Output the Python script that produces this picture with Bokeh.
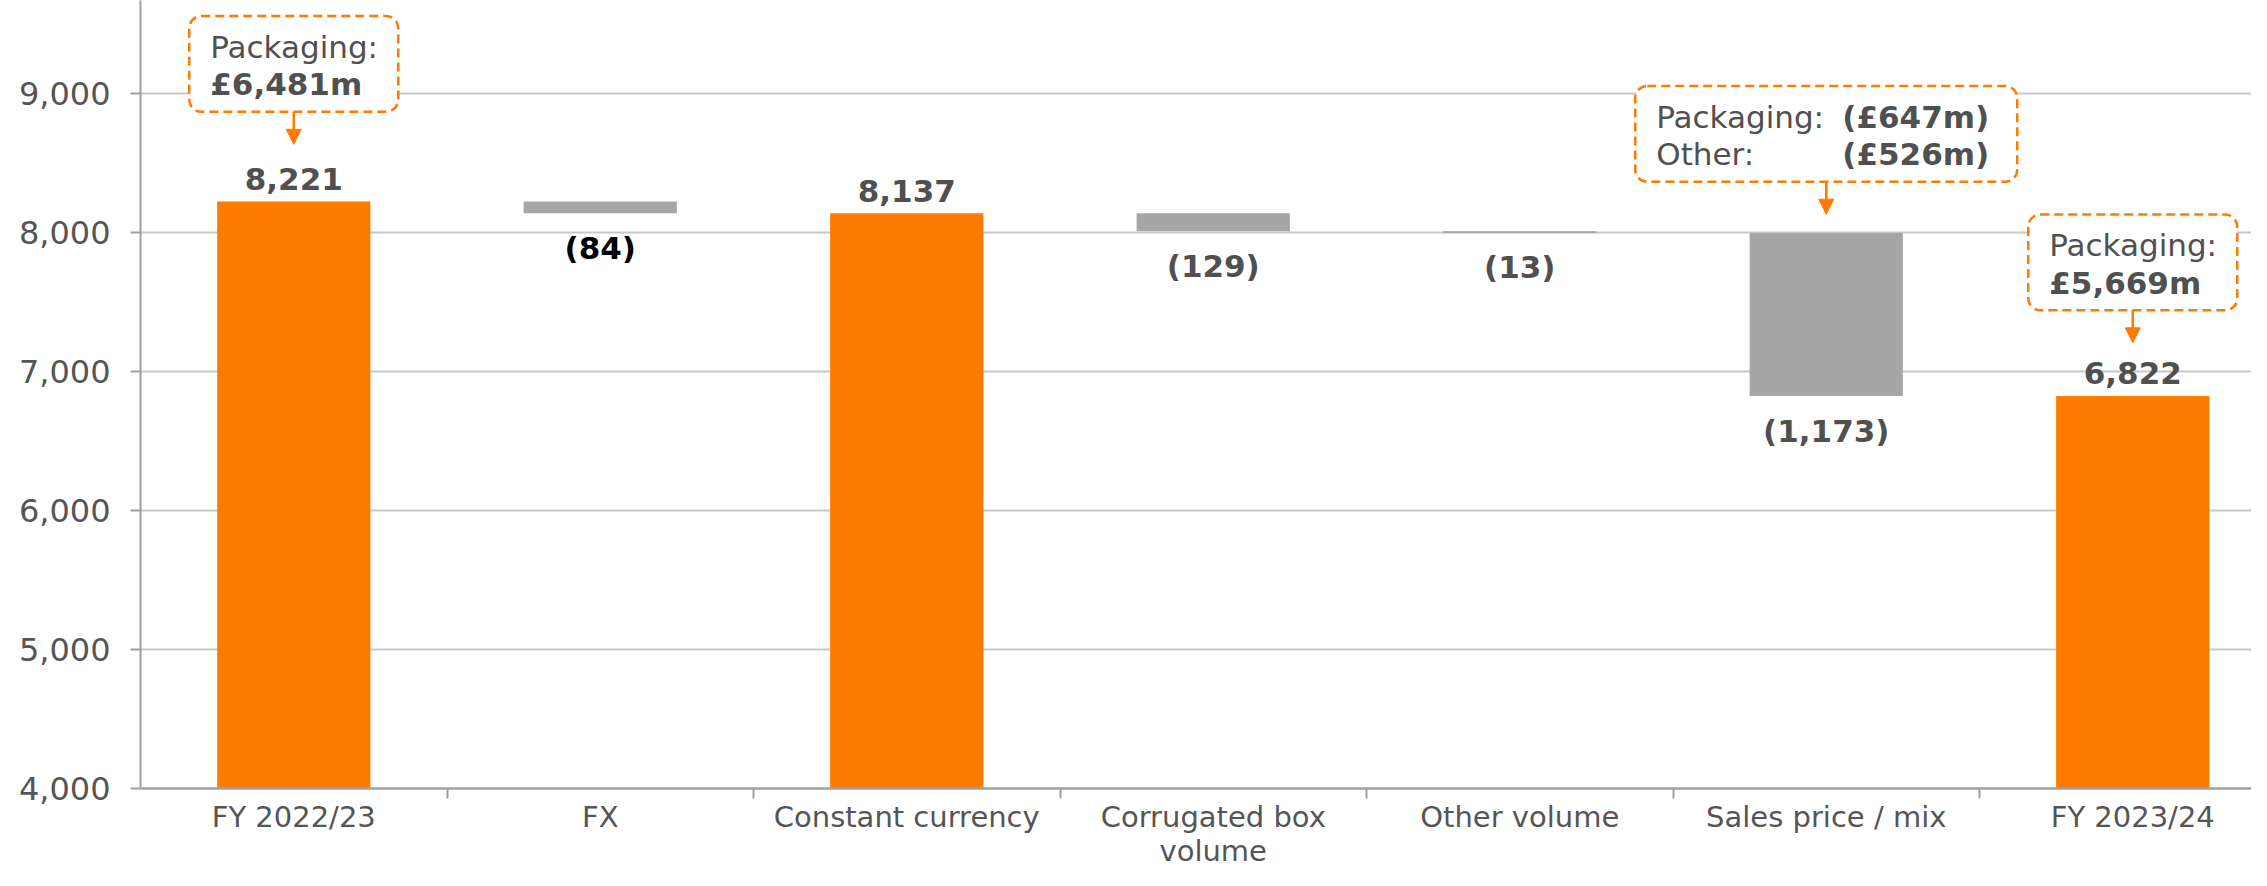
from bokeh.plotting import figure
from bokeh.models import (Range1d, FixedTicker, NumeralTickFormatter, BoxAnnotation,
                          Arrow, NormalHead, Label, ColumnDataSource)
from bokeh.core.properties import value
from bokeh.embed import file_html
from bokeh.resources import INLINE

# ---------------- data ----------------
categories = ["FY 2022/23", "FX", "Constant currency", "Corrugated box\nvolume",
              "Other volume", "Sales price / mix", "FY 2023/24"]
values = [8221, -84, 8137, -129, -13, -1173, 6822]
is_total = [True, False, True, False, False, False, True]
y_ticks = [4000, 5000, 6000, 7000, 8000, 9000]

ann_categories = [0, 5, 6]
ann1_texts = ["Packaging:", "£6,481m"]
ann2_texts = ["Packaging:", "(£647m)", "Other:", "(£526m)"]
ann3_texts = ["Packaging:", "£5,669m"]

# ---------------- style / layout ----------------
ORANGE = "#FF7A00"
GREY_BAR = "#A6A6A6"
TEXT = "#505050"
AXIS_TEXT = "#555555"
FONT = "DejaVu Sans"

W, H = 2251, 870
LEFT, BOTTOM = 140, 71
frame_h = H - BOTTOM
PX_PER_UNIT_Y = 0.141
Y0 = 4000
Y1 = Y0 + frame_h / PX_PER_UNIT_Y
CAT_PX = 306.5
X1 = (W - LEFT) / CAT_PX
uy = 1.0 / PX_PER_UNIT_Y  # data units per px (y)
ux = 1.0 / CAT_PX          # data units per px (x)

# ---------------- waterfall geometry ----------------
xs, bottoms, tops, colors, lab_y, lab_txt, lab_col = [], [], [], [], [], [], []
running = 0
for i, (v, t) in enumerate(zip(values, is_total)):
    xs.append(i + 0.5)
    if t:
        b, tp = 0, v
        running = v
        colors.append(ORANGE)
        lab_y.append(tp + 23 * uy)
        lab_txt.append(f"{v:,}")
        lab_col.append(TEXT)
    else:
        tp = running
        b = running + v
        running = b
        colors.append(GREY_BAR)
        lab_y.append(b - 35 * uy)
        lab_txt.append(f"({abs(v):,})")
        lab_col.append("#000000" if i == 1 else TEXT)
    bottoms.append(b)
    tops.append(tp)

src = ColumnDataSource(dict(x=xs, bottom=bottoms, top=tops, color=colors))
lsrc = ColumnDataSource(dict(x=xs, y=lab_y, text=lab_txt, color=lab_col))

p = figure(width=W, height=H, output_backend="svg", toolbar_location=None,
           x_range=Range1d(0, X1), y_range=Range1d(Y0, Y1),
           min_border_left=LEFT, min_border_right=0, min_border_top=0,
           min_border_bottom=BOTTOM)
p.outline_line_color = None
p.background_fill_color = "white"
p.border_fill_color = "white"

p.vbar(x="x", width=0.5, bottom="bottom", top="top", fill_color="color",
       line_color=None, source=src)
p.text(x="x", y="y", text="text", text_color="color", source=lsrc,
       text_font=value(FONT), text_font_style="bold", text_font_size="31px",
       text_align="center", text_baseline="middle")

# axes
p.xgrid.visible = False
p.ygrid.ticker = FixedTicker(ticks=y_ticks)
p.ygrid.grid_line_color = "#C8C8C8"
p.ygrid.grid_line_width = 2

p.yaxis.axis_label = None
p.yaxis.ticker = FixedTicker(ticks=y_ticks)
p.yaxis.formatter = NumeralTickFormatter(format="0,0")
p.yaxis.axis_line_color = "#A0A0A0"
p.yaxis.axis_line_width = 2
p.yaxis.major_tick_line_color = "#A0A0A0"
p.yaxis.major_tick_line_width = 2
p.yaxis.major_tick_out = 10
p.yaxis.major_tick_in = 0
p.yaxis.minor_tick_line_color = None
p.yaxis.major_label_text_font = FONT
p.yaxis.major_label_text_font_size = "32px"
p.yaxis.major_label_text_color = AXIS_TEXT
p.yaxis.major_label_standoff = 20

p.xaxis.axis_label = None
p.xaxis.ticker = FixedTicker(ticks=[i + 0.5 for i in range(len(categories))],
                             minor_ticks=list(range(1, len(categories) + 1)))
p.xaxis.major_label_overrides = {i + 0.5: c for i, c in enumerate(categories)}
p.xaxis.axis_line_color = "#A0A0A0"
p.xaxis.axis_line_width = 2.5
p.xaxis.major_tick_line_color = None
p.xaxis.major_tick_out = 0
p.xaxis.major_tick_in = 0
p.xaxis.minor_tick_line_color = "#A0A0A0"
p.xaxis.minor_tick_line_width = 2
p.xaxis.minor_tick_out = 10
p.xaxis.minor_tick_in = 0
p.xaxis.major_label_text_font = FONT
p.xaxis.major_label_text_font_size = "29px"
p.xaxis.major_label_text_line_height = 1.0
p.xaxis.major_label_text_color = AXIS_TEXT
p.xaxis.major_label_standoff = 1

# ---------------- annotation boxes ----------------
# per box: (category, anchor value, tip gap px, box width px, text items)
# text item: (text, bold, row, column offset px)
ann_specs = [
    (ann_categories[0], tops[0], 58, 209,
     [(ann1_texts[0], False, 0, 0), (ann1_texts[1], True, 1, 0)]),
    (ann_categories[1], tops[5], 19, 382,
     [(ann2_texts[0], False, 0, 0), (ann2_texts[1], True, 0, 186),
      (ann2_texts[2], False, 1, 0), (ann2_texts[3], True, 1, 186)]),
    (ann_categories[2], tops[6], 54, 209,
     [(ann3_texts[0], False, 0, 0), (ann3_texts[1], True, 1, 0)]),
]
ARROW_PX, BOX_H_PX, PAD_L = 33, 97, 21
ROW_Y = [31, 69]
for cat, anchor, gap, bw, items in ann_specs:
    cx = cat + 0.5
    tip = anchor + gap * uy
    bb = tip + ARROW_PX * uy
    bt = bb + BOX_H_PX * uy
    bl = cx - bw / 2 * ux
    br = cx + bw / 2 * ux
    p.add_layout(BoxAnnotation(left=bl, right=br, bottom=bb, top=bt,
                               fill_color="white", fill_alpha=1.0,
                               line_color=ORANGE, line_alpha=1.0, line_width=2.5,
                               line_dash="9 5", border_radius=12))
    p.add_layout(Arrow(x_start=cx, y_start=bb, x_end=cx, y_end=tip,
                       line_color=ORANGE, line_width=2.5,
                       end=NormalHead(size=15, fill_color=ORANGE, line_color=ORANGE)))
    for txt, bold, row, col in items:
        p.add_layout(Label(x=bl, y=bt - ROW_Y[row] * uy, x_offset=PAD_L + col,
                           text=txt, text_font=FONT,
                           text_font_style="bold" if bold else "normal",
                           text_font_size="31px", text_color=TEXT,
                           text_align="left", text_baseline="middle"))

open("out.html", "w").write(file_html(p, INLINE))
